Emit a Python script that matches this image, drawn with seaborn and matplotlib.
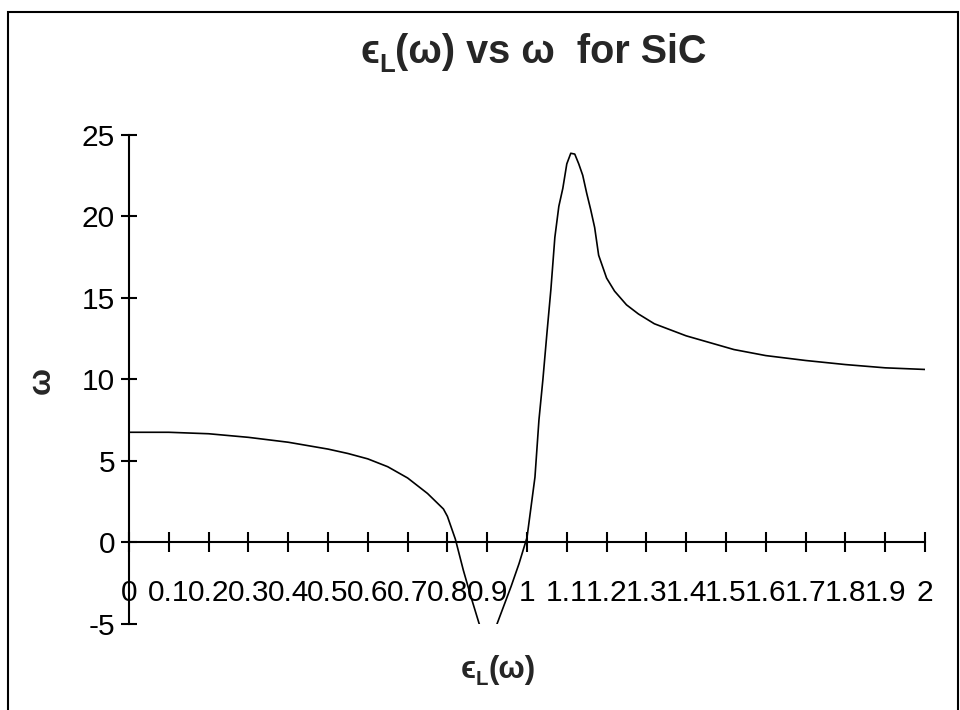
import matplotlib
matplotlib.use('Agg')
import matplotlib.pyplot as plt
import seaborn as sns
import pandas as pd
from matplotlib.patches import Rectangle

# values
omega = [0.0, 0.1, 0.2, 0.3, 0.4, 0.5, 0.55, 0.6, 0.65, 0.7, 0.75, 0.79, 0.8,
         0.82, 0.84, 0.86, 0.88, 0.9, 0.92, 0.94, 0.96, 0.98, 1.0, 1.02, 1.03,
         1.04, 1.05, 1.06, 1.07, 1.08, 1.09, 1.1, 1.11, 1.12, 1.13, 1.14, 1.15,
         1.16, 1.17, 1.18, 1.2, 1.22, 1.25, 1.28, 1.32, 1.4, 1.47, 1.52, 1.6,
         1.7, 1.8, 1.9, 2.0]
eps_l = [6.75, 6.75, 6.66, 6.44, 6.14, 5.72, 5.45, 5.12, 4.64, 3.95, 3.0, 2.05, 1.6,
         0.2, -1.7, -3.4, -5.0, -5.9, -5.3, -4.0, -2.7, -1.3, 0.3, 4.0, 7.5,
         10.0, 12.8, 15.5, 18.7, 20.6, 21.7, 23.2, 23.85, 23.8, 23.2, 22.5, 21.4,
         20.4, 19.3, 17.6, 16.2, 15.4, 14.56, 14.0, 13.4, 12.66, 12.17, 11.82, 11.45,
         11.15, 10.9, 10.7, 10.6]

x_ticks = [0, 0.1, 0.2, 0.3, 0.4, 0.5, 0.6, 0.7, 0.8, 0.9, 1.0,
           1.1, 1.2, 1.3, 1.4, 1.5, 1.6, 1.7, 1.8, 1.9, 2.0]
x_tick_labels = ['0', '0.1', '0.2', '0.3', '0.4', '0.5', '0.6', '0.7', '0.8', '0.9', '1',
                 '1.1', '1.2', '1.3', '1.4', '1.5', '1.6', '1.7', '1.8', '1.9', '2']
y_ticks = [-5, 0, 5, 10, 15, 20, 25]
y_tick_labels = ['-5', '0', '5', '10', '15', '20', '25']

title_parts = [('ϵ', 1.0, 0.0), ('L', 0.65, -0.22), ('(ω) vs ω  for SiC', 1.0, 0.0)]
xlabel_parts = [('ϵ', 1.0, 0.0), ('L', 0.65, -0.22), ('(ω)', 1.0, 0.0)]
ylabel_text = 'ω'

sns.set_style('white')
plt.rcParams['font.family'] = ['Liberation Sans', 'DejaVu Sans']
plt.rcParams['axes.unicode_minus'] = False


def rich_text(fig, cx, base_y, parts, size):
    """Lay out text pieces (with a subscript) centred on cx, in pixels."""
    renderer = fig.canvas.get_renderer()
    px = size * fig.dpi / 72.0
    items = []
    for s, scale, dy in parts:
        t = fig.text(0, 0, s, fontsize=size * scale, fontweight='bold',
                     ha='left', va='baseline', transform=None)
        items.append((t, dy * px))
    widths = [t.get_window_extent(renderer).width for t, _ in items]
    x = cx - sum(widths) / 2
    for (t, dy), w in zip(items, widths):
        t.set_position((x, base_y + dy))
        x += w


df = pd.DataFrame({'omega': omega, 'eps': eps_l})

fig = plt.figure(figsize=(9.6, 7.1), dpi=100)
ax = fig.add_axes([129 / 960, 1 - 624 / 710, 796 / 960, 489.5 / 710])
sns.lineplot(data=df, x='omega', y='eps', color='black', linewidth=1.2, ax=ax)

ax.set_xlim(0, 2)
ax.set_ylim(-5, 25)
ax.spines['top'].set_visible(False)
ax.spines['right'].set_visible(False)
ax.spines['bottom'].set_position(('data', 0))
for side in ['bottom', 'left']:
    ax.spines[side].set_linewidth(1.5)
    ax.spines[side].set_color('black')
ax.set_xticks(x_ticks, x_tick_labels)
ax.set_yticks(y_ticks, y_tick_labels)
ax.tick_params(axis='x', bottom=True, direction='inout', length=14, width=1.5,
               pad=19, labelsize=21.5, colors='black')
ax.tick_params(axis='y', left=True, direction='inout', length=12, width=1.5,
               pad=4, labelsize=21.5, colors='black')
ax.set_xlabel('')
ax.set_ylabel('')

rich_text(fig, 533, 710 - 63, title_parts, 28.5)
rich_text(fig, 498, 710 - 678, xlabel_parts, 22.5)
fig.text(42, 710 - 380, ylabel_text, fontsize=23, fontweight='bold', rotation=90,
         ha='center', va='center', transform=None)

fig.patches.append(Rectangle((7.5 / 960, -0.05), 950 / 960, 1.05 - 12 / 710,
                             transform=fig.transFigure, fill=False,
                             linewidth=1.5, edgecolor='black'))

fig.savefig('out.png', dpi=100)
plt.close(fig)
